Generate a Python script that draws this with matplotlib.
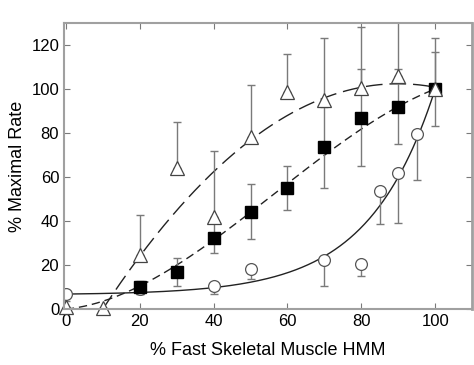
import numpy as np
import matplotlib
matplotlib.use("Agg")
import matplotlib.pyplot as plt

plt.rcParams['font.family'] = ['Liberation Sans', 'DejaVu Sans']

# % fast skeletal muscle HMM
x_tri = [0, 10, 20, 30, 40, 50, 60, 70, 80, 90, 100]
y_tri = [1, 0.5, 24.5, 64, 42, 78, 98.6, 95, 100.4, 106, 100]
up_tri = [0, 0, 18.5, 21, 30, 24, 17.5, 28, 27.6, 30, 23]

x_sq = [20, 30, 40, 50, 60, 70, 80, 90, 100]
y_sq = [10, 16.8, 32.5, 44.3, 55, 73.5, 87, 92, 100]
err_sq = [3, 6.5, 7, 12.5, 10, 18.5, 22, 17, 17]

x_circ = [0, 20, 40, 50, 70, 80, 85, 90, 95]
y_circ = [6.8, 9, 10.3, 18.3, 22.5, 20.5, 53.5, 62, 79.5]
lo_circ = [3, 2, 3.5, 4.5, 12, 5.5, 15, 23, 21]

# fitted curves (parameters)
tri_a, tri_b, tri_x0 = 2.56, -0.016, 10       # quadratic
sq_a, sq_b, sq_c = 0.170, 0.02009, -1.179e-4  # cubic
circ_c, circ_b, circ_k = 6.5, 93.5, 0.0558    # exponential

grey = '#7a7a7a'

fig = plt.figure(figsize=(4.74, 3.65), dpi=100)
ax = fig.add_axes([0.135, 0.153, 0.861, 0.784])

xs = np.linspace(0, 100, 300)
xt = np.linspace(tri_x0, 100, 300)
ax.plot(xt, tri_a * (xt - tri_x0) + tri_b * (xt - tri_x0) ** 2,
        color='#222222', lw=1.0, dashes=(12, 5))
ax.plot(xs, sq_a * xs + sq_b * xs ** 2 + sq_c * xs ** 3,
        color='#222222', lw=1.0, dashes=(6, 3.5))
ax.plot(xs, circ_c + circ_b * np.exp(circ_k * (xs - 100)),
        color='#222222', lw=1.0)

ax.errorbar(x_tri, y_tri, yerr=[np.zeros(len(up_tri)), up_tri], fmt='none',
            ecolor=grey, elinewidth=1.0, capsize=3)
ax.errorbar(x_sq, y_sq, yerr=err_sq, fmt='none',
            ecolor=grey, elinewidth=1.0, capsize=3)
ax.errorbar(x_circ, y_circ, yerr=[lo_circ, np.zeros(len(lo_circ))], fmt='none',
            ecolor=grey, elinewidth=1.0, capsize=3)

ax.plot(x_circ, y_circ, 'o', ms=8.5, mfc='white', mec='#555555', mew=0.9, ls='none')
ax.plot(x_sq, y_sq, 's', ms=8, mfc='black', mec='black', ls='none')
ax.plot(x_tri, y_tri, '^', ms=10, mfc='white', mec='#444444', mew=0.9, ls='none',
        clip_on=False)

ax.set_xlim(-0.5, 110)
ax.set_ylim(0, 130)
ax.set_xticks([0, 20, 40, 60, 80, 100])
ax.set_yticks([0, 20, 40, 60, 80, 100, 120])
ax.tick_params(direction='in', top=True, right=True, labelsize=12,
               color=grey, length=4)
for s in ax.spines.values():
    s.set_color('#a0a0a0')
    s.set_linewidth(1.5)
ax.spines['right'].set_linewidth(2)
ax.set_xlabel('% Fast Skeletal Muscle HMM', fontsize=13, labelpad=9)
ax.set_ylabel('% Maximal Rate', fontsize=13, labelpad=4)

fig.savefig('out.png', dpi=100)
